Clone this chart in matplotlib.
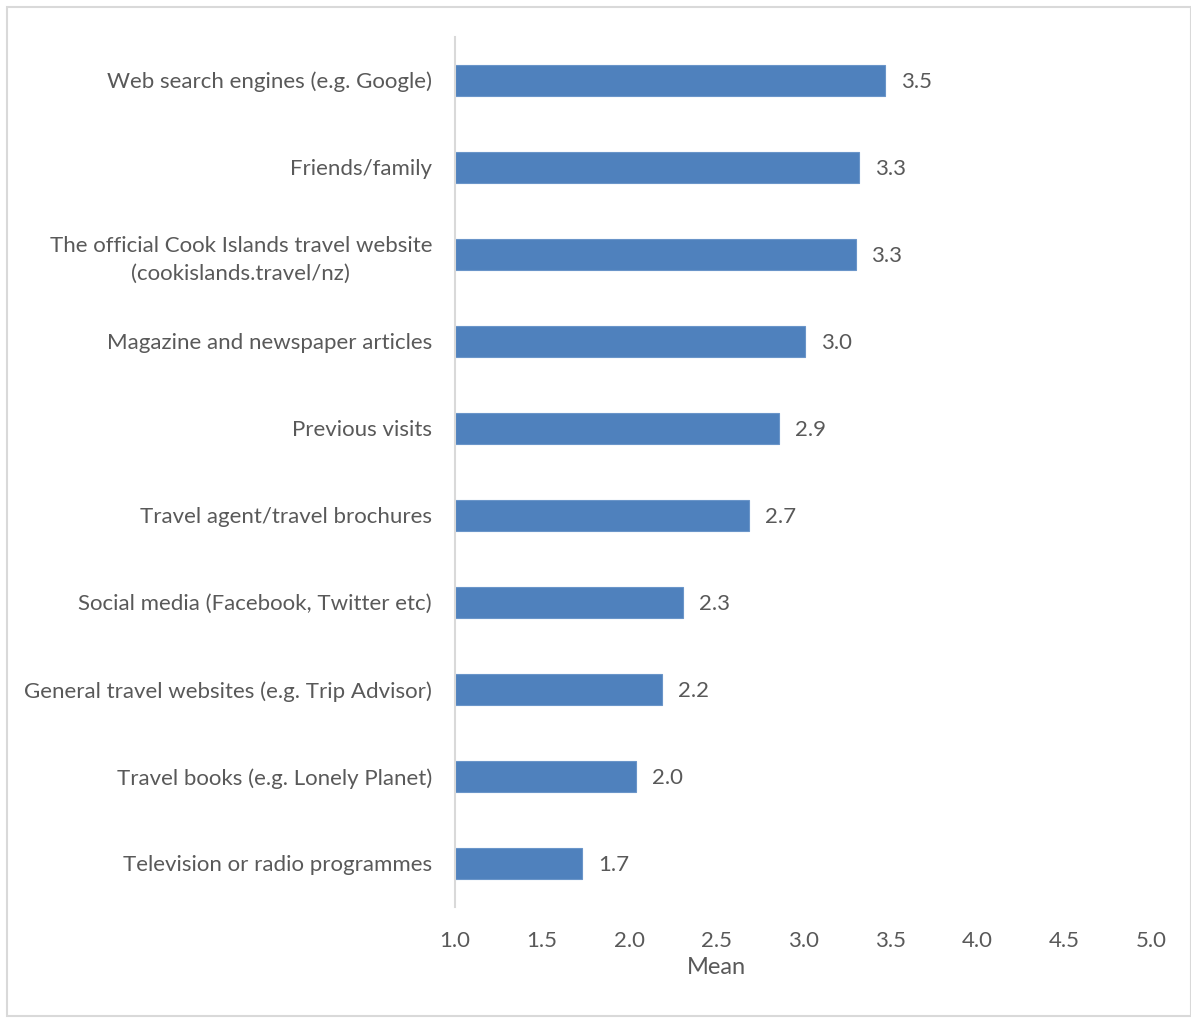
import matplotlib
matplotlib.use("Agg")
import matplotlib.pyplot as plt
from matplotlib.patches import Rectangle

# information sources, top to bottom as drawn
sources = [
    "Web search engines (e.g. Google)",
    "Friends/family",
    "The official Cook Islands travel website\n(cookislands.travel/nz)",
    "Magazine and newspaper articles",
    "Previous visits",
    "Travel agent/travel brochures",
    "Social media (Facebook, Twitter etc)",
    "General travel websites (e.g. Trip Advisor)",
    "Travel books (e.g. Lonely Planet)",
    "Television or radio programmes",
]
means = [3.47, 3.32, 3.30, 3.01, 2.86, 2.69, 2.31, 2.19, 2.04, 1.73]
x_ticks = [1.0, 1.5, 2.0, 2.5, 3.0, 3.5, 4.0, 4.5, 5.0]

BAR_COLOR = "#4f81bd"
TEXT_COLOR = "#595959"
LINE_COLOR = "#d9d9d9"
FS = 16

plt.rcParams["font.family"] = ["Lato", "DejaVu Sans"]

fig = plt.figure(figsize=(11.91, 10.19), dpi=100)
ax = fig.add_axes([0.382, 0.110, 0.585, 0.854])

ypos = list(range(len(sources)))
bars = ax.barh(ypos, [m - 1.0 for m in means], left=1.0, height=0.36,
               color=BAR_COLOR, edgecolor="#6a95c9", linewidth=0.8)
for bar, m in zip(bars, means):
    ax.text(bar.get_x() + bar.get_width() + 0.09, bar.get_y() + bar.get_height() / 2 + 0.02,
            f"{m:.1f}", va="center", ha="left", fontsize=FS, color=TEXT_COLOR)

ax.set_xlim(1.0, 5.0)
ax.set_ylim(len(sources) - 0.5, -0.5)
ax.set_yticks(ypos)
ax.set_yticklabels(sources, fontsize=FS, color=TEXT_COLOR, linespacing=1.5,
                   multialignment="center")
ax.set_xticks(x_ticks)
ax.set_xticklabels([f"{t:.1f}" for t in x_ticks], fontsize=FS, color=TEXT_COLOR)
ax.tick_params(axis="y", length=0, pad=16.5)
ax.tick_params(axis="x", length=0, pad=17.5)
ax.set_xlabel("Mean", fontsize=FS + 1, color=TEXT_COLOR, labelpad=4)
ax.xaxis.set_label_coords(0.376, -0.058)

for side in ["top", "right", "bottom"]:
    ax.spines[side].set_visible(False)
ax.spines["left"].set_color(LINE_COLOR)
ax.spines["left"].set_linewidth(1.5)

# light frame around the whole chart area
fig.patches.append(Rectangle((0.006, 0.003), 0.994, 0.99, transform=fig.transFigure,
                             fill=False, edgecolor=LINE_COLOR, linewidth=1.5))

plt.savefig("out.png", dpi=100)
plt.close()
